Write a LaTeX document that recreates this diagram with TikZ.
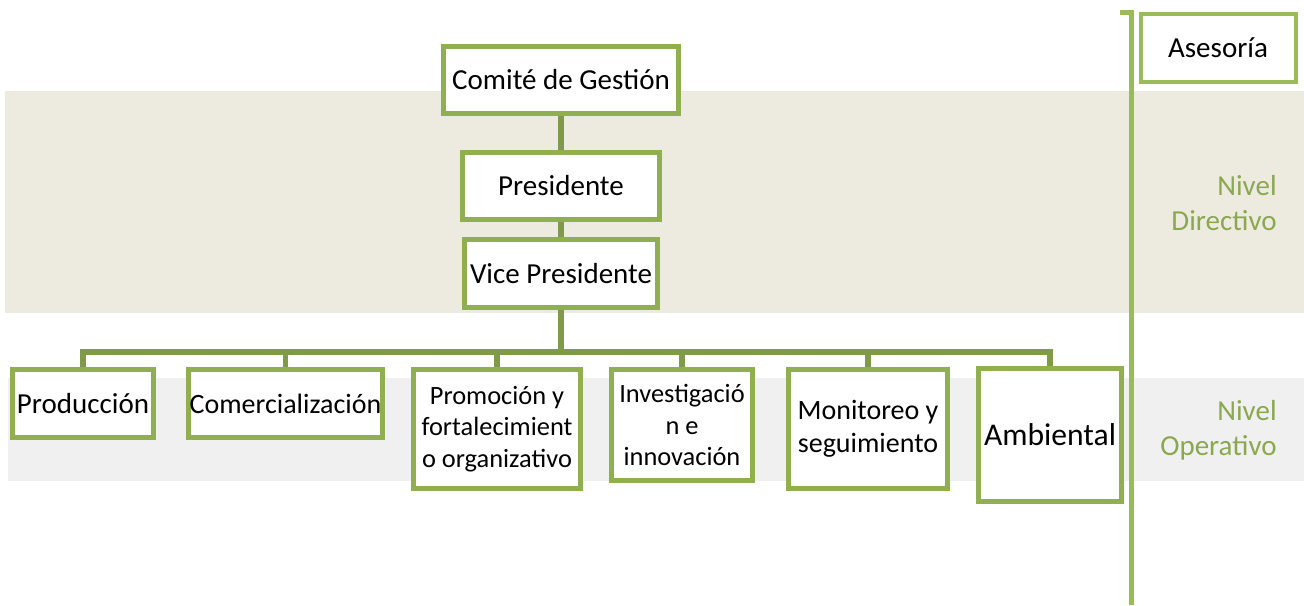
\documentclass[tikz,border=0pt]{standalone}
\usepackage{fontspec}
\setmainfont{Carlito}
\definecolor{boxgreen}{HTML}{8FAF50}
\definecolor{linkgreen}{HTML}{7F9A48}
\definecolor{railgreen}{HTML}{9BBB59}
\definecolor{bandtan}{HTML}{EDEBE0}
\definecolor{bandgray}{HTML}{F0F0F0}
\tikzset{
  box/.style={draw=boxgreen, line width=2.5pt, fill=white, align=center,
    inner sep=0pt, font=\fontsize{14.5pt}{17.4pt}\selectfont},
  smallbox/.style={box, font=\fontsize{13.2pt}{15.8pt}\selectfont},
  link/.style={draw=linkgreen, line width=2.7pt},
  level/.style={text=railgreen!90!black, align=right, anchor=east, inner sep=0pt,
    font=\fontsize{14.5pt}{17.4pt}\selectfont}
}
\begin{document}
\begin{tikzpicture}[x=0.5pt,y=-0.5pt]

    % --- Frame ---
    \useasboundingbox (0,0) rectangle (1304,605);

    % --- Background bands ---
    % Tan band for the directive level
    \fill[bandtan] (5,91) rectangle (1304,313);

    % Gray band for the operative level
    \fill[bandgray] (8,378) rectangle (1304,481);

    % --- Define Coordinates ---
    % bus is where the horizontal line meets the main stem
    \coordinate (bus) at (561,352);

    % hook, railtop and railend trace the side rail
    \coordinate (hook) at (1120,12);
    \coordinate (railtop) at (1131,12);
    \coordinate (railend) at (1131,605);

    % --- Top of the chart ---
    \node[box, minimum width=117.5pt, minimum height=33.5pt] (comite) at (561,80) {Comité de Gestión};
    \node[box, minimum width=98.5pt, minimum height=33.5pt] (pres) at (561,186) {Presidente};
    \node[box, minimum width=96.5pt, minimum height=34pt] (vp) at (561,273.5) {Vice Presidente};

    % --- Operative boxes ---
    \node[box, minimum width=70.5pt, minimum height=34pt] (prod) at (83,403.5) {Producción};
    \node[box, font=\fontsize{14pt}{16.8pt}\selectfont, minimum width=97pt, minimum height=34pt] (comer) at (285.5,403.5) {Comercialización};
    \node[smallbox, minimum width=83.5pt, minimum height=59.5pt] (promo) at (497,429) {Promoción y\\fortalecimient\\o organizativo};
    \node[smallbox, minimum width=70.5pt, minimum height=55.5pt] (inves) at (682,425) {Investigació\\n e\\innovación};
    \node[box, font=\fontsize{14pt}{16.5pt}\selectfont, minimum width=79.5pt, minimum height=59.5pt] (monit) at (868,429) {Monitoreo y\\seguimiento};
    \node[box, font=\fontsize{15.8pt}{19pt}\selectfont, minimum width=71.5pt, minimum height=66.5pt] (ambi) at (1050,435) {Ambiental};

    % --- Draw Lines and Segments ---
    \draw[link] (comite.south) -- (pres.north);
    \draw[link] (pres.south) -- (vp.north);
    \draw[link] (vp.south) -- (bus);
    \foreach \n in {prod,comer,promo,inves,monit,ambi}
      \draw[link] (bus) -| (\n.north);

    % Side rail with its small hook at the top
    \draw[railgreen, line width=2.5pt] (hook) -- (railtop) -- (railend);

    % Advisory box right of the rail
    \node[box, draw=railgreen, line width=2pt, minimum width=77.5pt, minimum height=34pt] (ases) at (1218,48) {Asesoría};

    % --- Place Labels ---
    \node[level] (directivo) at (1277,203) {Nivel\\Directivo};
    \node[level] (operativo) at (1277,430) {Nivel\\Operativo};

\end{tikzpicture}
\end{document}
